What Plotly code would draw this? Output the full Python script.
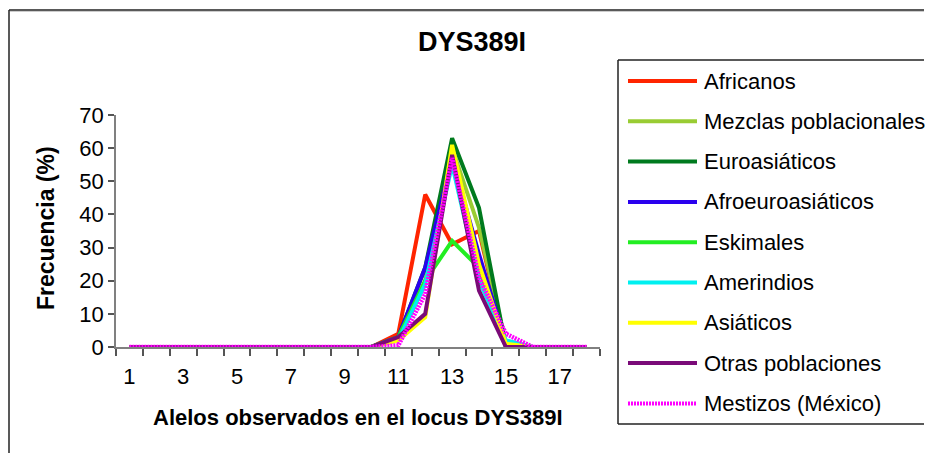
import plotly.graph_objects as go

categories = list(range(1, 19))
tick_labels = ["1", "3", "5", "7", "9", "11", "13", "15", "17"]

series_names = ["Africanos", "Mezclas poblacionales", "Euroasiáticos", "Afroeuroasiáticos",
                "Eskimales", "Amerindios", "Asiáticos", "Otras poblaciones", "Mestizos (México)"]
series_colors = ["#FF2400", "#99CC33", "#007A1E", "#2A00EE", "#22EE22", "#00F0F0",
                 "#FFFF00", "#7A0A78", "#FF00FF"]

africanos         = [0,0,0,0,0,0,0,0,0,0, 4.0, 46, 31, 35, 0.5, 0, 0, 0]
mezclas           = [0,0,0,0,0,0,0,0,0,0, 3.0, 20, 60, 36, 1.0, 0, 0, 0]
euroasiaticos     = [0,0,0,0,0,0,0,0,0,0, 3.0, 24, 63, 42, 0.0, 0, 0, 0]
afroeuroasiaticos = [0,0,0,0,0,0,0,0,0,0, 3.0, 24, 57, 28, 1.0, 0, 0, 0]
eskimales         = [0,0,0,0,0,0,0,0,0,0, 3.0, 20, 32, 24, 0.0, 0, 0, 0]
amerindios        = [0,0,0,0,0,0,0,0,0,0, 2.0, 19, 55, 20, 2.0, 0, 0, 0]
asiaticos         = [0,0,0,0,0,0,0,0,0,0, 2.0, 9, 61, 25, 1.0, 0, 0, 0]
otras             = [0,0,0,0,0,0,0,0,0,0, 3.0, 10, 58, 17, 0.0, 0, 0, 0]
mestizos          = [0,0,0,0,0,0,0,0,0,0, 0.5, 16, 57, 21, 4.0, 0, 0, 0]

series_values = [africanos, mezclas, euroasiaticos, afroeuroasiaticos, eskimales,
                 amerindios, asiaticos, otras, mestizos]

FONT = "Liberation Sans"
W, H = 925, 453
L, R, T, B = 116, 600, 115, 347  # plot area in pixels


def px_x(p):
    return (p - L) / (R - L)


def px_y(p):
    return (B - p) / (B - T)


fig = go.Figure()
for name, color, vals in zip(series_names, series_colors, series_values):
    dotted = name.startswith("Mestizos")
    fig.add_trace(go.Scatter(
        x=categories, y=vals, name=name, mode="lines",
        line=dict(color=color, width=4.5 if dotted else 4, dash="2px,1px" if dotted else "solid"),
        showlegend=False, cliponaxis=False,
    ))

shapes = []
annotations = []


def hline(x0, x1, y, color="#222222", width=1.5):
    shapes.append(dict(type="line", xref="paper", yref="paper",
                       x0=px_x(x0), x1=px_x(x1), y0=px_y(y), y1=px_y(y),
                       line=dict(color=color, width=width)))


def vline(x, y0, y1, color="#222222", width=1.5):
    shapes.append(dict(type="line", xref="paper", yref="paper",
                       x0=px_x(x), x1=px_x(x), y0=px_y(y0), y1=px_y(y1),
                       line=dict(color=color, width=width)))


# outer chart border (right and bottom edges lie outside the picture)
hline(9, 924, 10)
hline(10, 924, 11.5, color="#CCCCCC", width=1)
vline(9, 10, 453)
# legend box (right edge outside the picture)
hline(618, 924, 60)
hline(618, 924, 424)
vline(618, 60, 424)

row0, gap = 81, 40.3
for i, (name, color) in enumerate(zip(series_names, series_colors)):
    yy = row0 + i * gap
    dotted = name.startswith("Mestizos")
    shapes.append(dict(type="line", xref="paper", yref="paper",
                       x0=px_x(628), x1=px_x(697), y0=px_y(yy), y1=px_y(yy),
                       line=dict(color=color, width=4,
                                 dash="2px,1px" if dotted else "solid")))
    annotations.append(dict(text=name, xref="paper", yref="paper", x=px_x(702), y=px_y(yy),
                            xanchor="left", yanchor="middle", showarrow=False,
                            font=dict(family=FONT, size=22, color="black")))

# title and axis titles
annotations.append(dict(text="<b>DYS389I</b>", xref="paper", yref="paper",
                        x=px_x(472), y=px_y(42), xanchor="center", yanchor="middle",
                        showarrow=False, font=dict(family=FONT, size=27, color="black")))
annotations.append(dict(text="<b>Alelos observados en el locus DYS389I</b>", xref="paper", yref="paper",
                        x=px_x(358), y=px_y(418), xanchor="center", yanchor="middle",
                        showarrow=False, font=dict(family=FONT, size=22, color="black")))
annotations.append(dict(text="<b>Frecuencia (%)</b>", xref="paper", yref="paper",
                        x=px_x(46), y=px_y(228), xanchor="center", yanchor="middle", textangle=-90,
                        showarrow=False, font=dict(family=FONT, size=23, color="black")))

fig.update_layout(
    width=W, height=H,
    margin=dict(l=L, r=W - R, t=T, b=H - B, pad=0),
    paper_bgcolor="white", plot_bgcolor="white",
    shapes=shapes, annotations=annotations,
    showlegend=False,
    font=dict(family=FONT, color="black"),
    xaxis=dict(range=[0.5, 18.5], tickmode="array",
               tickvals=[int(t) for t in tick_labels], ticktext=tick_labels,
               ticks="", showgrid=False, zeroline=False,
               showline=True, linecolor="#808080", linewidth=1.5,
               tickfont=dict(family=FONT, size=22, color="black"),
               ticklabelstandoff=9,
               minor=dict(tickmode="linear", tick0=0.5, dtick=1, ticks="outside",
                          ticklen=7, tickcolor="#555555", tickwidth=1.5, showgrid=False)),
    yaxis=dict(range=[0, 70], dtick=10, tick0=0, ticks="outside", ticklen=6,
               tickcolor="#555555", tickwidth=1.5, showgrid=False, zeroline=False,
               showline=True, linecolor="#808080", linewidth=1.5,
               tickfont=dict(family=FONT, size=22, color="black")),
)

fig.write_html("out.html")
